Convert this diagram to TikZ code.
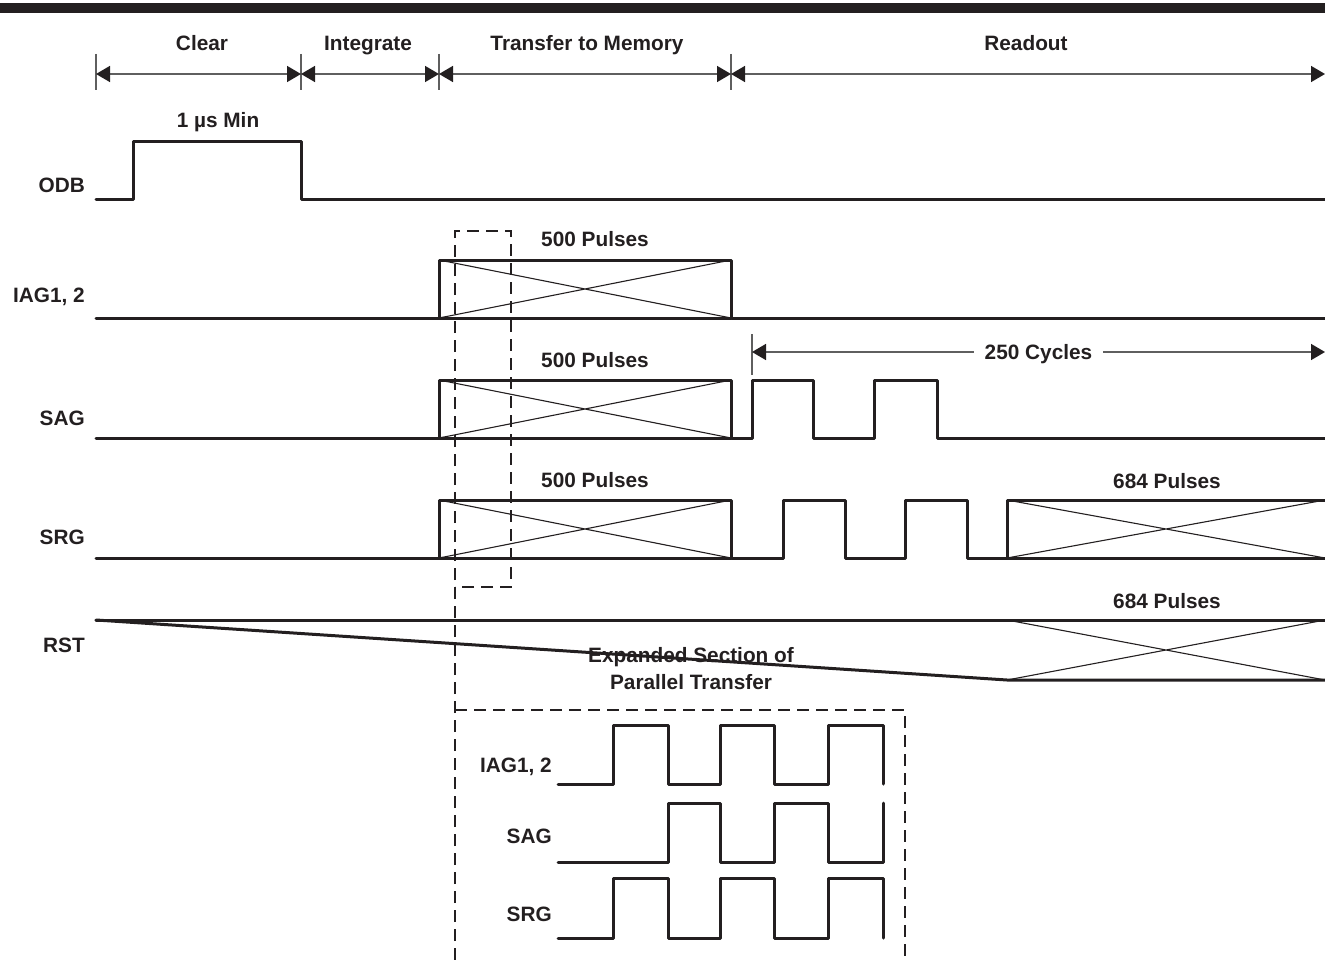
\documentclass[tikz,border=0pt]{standalone}
\usepackage{fontspec}
\setmainfont{Liberation Sans}
\usetikzlibrary{arrows.meta, positioning}
\definecolor{cInk}{RGB}{35,31,32}
\definecolor{cDim}{RGB}{95,95,95}
\tikzset{
	wave/.style   ={line width=3pt, draw=cInk, line join=round, line cap=round},
	cross/.style  ={line width=1.1pt, draw=cInk},
	phase/.style  ={{Triangle[length=14pt, width=16pt, color=cInk]}-{Triangle[length=14pt, width=16pt, color=cInk]}, line width=1.6pt, draw=cDim},
	tick/.style   ={line width=1.1pt, draw=cDim},
	zoombox/.style={line width=1.2pt, draw=cInk, dash pattern=on 12pt off 7pt},
	lbl/.style    ={font=\bfseries\fontsize{20.8}{27}\selectfont, text=cInk, inner sep=0pt, anchor=base},
	sig/.style    ={lbl, anchor=base east},
}

\begin{document}
\begin{tikzpicture}[x=1pt, y=-1pt]
	\useasboundingbox (0,0) rectangle (1325,960);
	\fill[cInk] (0,3) rectangle (1325,13);
	% phases
	\coordinate (t0) at (96,74);
	\coordinate (t1) at (301,74);
	\coordinate (t2) at (439,74);
	\coordinate (t3) at (731,74);
	\coordinate (t4) at (1325,74);
	\foreach \x in {96,301,439,731} \draw[tick] (\x,54) -- (\x,90);
	\draw[phase] (t0) -- (t1);
	\draw[phase] (t1) -- (t2);
	\draw[phase] (t2) -- (t3);
	\draw[phase] (t3) -- (t4);
	\node[lbl] (clear) at (202,51) {Clear};
	\node[lbl] (integ) at (368,51) {Integrate};
	\node[lbl] (xfer) at (587,51) {Transfer to Memory};
	\node[lbl] (rdout) at (1026,51) {Readout};
	% signal names
	\node[sig] (lODB) at (85,193) {ODB};
	\node[sig] (lIAG) at (85,302) {IAG1, 2};
	\node[sig] (lSAG) at (85,425) {SAG};
	\node[sig] (lSRG) at (85,544) {SRG};
	\node[sig] (lRST) at (85,652) {RST};
	% ODB
	\draw[wave] (96,200) -| (133,142) -| (301,200) -- (1325,200);
	\node[lbl] (odbw) at (218,128) {1 µs Min};
	% IAG1, 2
	\draw[wave] (96,318) -| (439,260) -| (731,318) -- (1325,318);
	\draw[wave] (439,318) -- (731,318);
	\draw[cross] (439,260) -- (731,318) (439,318) -- (731,260);
	\node[lbl] (iagp) at (595,247) {500 Pulses};
	% SAG
	\draw[wave] (96,438) -| (439,380) -| (731,438) -- (752,438) |- (813,380) |- (874,438) |- (937,380) |- (1325,438);
	\draw[wave] (439,438) -- (731,438);
	\draw[cross] (439,380) -- (731,438) (439,438) -- (731,380);
	\node[lbl] (sagp) at (595,367) {500 Pulses};
	\draw[tick] (752,334) -- (752,375);
	\coordinate (c0) at (752,352);
	\coordinate (c1) at (1325,352);
	\draw[phase] (c0) -- (c1) node[lbl, anchor=center, midway, fill=white, inner xsep=11pt, text depth=0pt] (cyc) {250 Cycles};
	% SRG
	\draw[wave] (96,558) -| (439,500) -| (731,558) -| (783,500) -| (845,558) -| (905,500) -| (967,558) -| (1007,500) -- (1325,500);
	\draw[wave] (439,558) -- (731,558) (1007,558) -- (1325,558);
	\draw[cross] (439,500) -- (731,558) (439,558) -- (731,500);
	\draw[cross] (1007,500) -- (1325,558) (1007,558) -- (1325,500);
	\node[lbl] (srgp) at (595,487) {500 Pulses};
	\node[lbl] (srgr) at (1167,488) {684 Pulses};
	% RST
	\draw[wave] (96,620) -- (1325,620);
	\draw[wave] (96,620) -- (1007,680) -- (1325,680);
	\draw[cross] (1007,620) -- (1325,680) (1007,680) -- (1325,620);
	\node[lbl] (rstp) at (1167,608) {684 Pulses};
	% expanded section
	\draw[zoombox] (455,960) -- (455,231) -- (511,231) -- (511,587) -- (455,587);
	\draw[zoombox] (455,710) -- (905,710) -- (905,960);
	\node[lbl, anchor=center, align=center] (exp) at (691,669) {Expanded Section of\\Parallel Transfer};
	\node[sig] (eIAG) at (552,772) {IAG1, 2};
	\node[sig] (eSAG) at (552,843) {SAG};
	\node[sig] (eSRG) at (552,921) {SRG};
	\draw[wave] (558,784) -| (613,725) -| (668,784) -| (720,725) -| (774,784) -| (828,725) -| (883,784);
	\draw[wave] (558,862) -| (668,803) -| (720,862) -| (774,803) -| (828,862) -| (883,803);
	\draw[wave] (558,938) -| (613,878) -| (668,938) -| (720,878) -| (774,938) -| (828,878) -| (883,938);
\end{tikzpicture}
\end{document}
